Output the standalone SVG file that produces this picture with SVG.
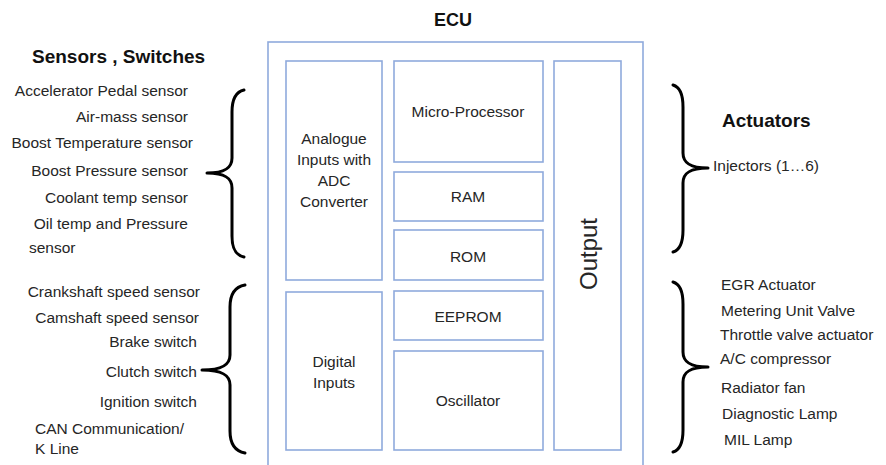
<svg xmlns="http://www.w3.org/2000/svg" width="886" height="465" viewBox="0 0 886 465">
<style>
.box{fill:#fff;stroke:#8faadc;stroke-width:1.6}
.t{font-family:"Liberation Sans",Arial,sans-serif;font-size:15.5px;fill:#262626}
.c{text-anchor:middle}
.e{text-anchor:end}
.h{font-family:"Liberation Sans",Arial,sans-serif;font-weight:bold;fill:#111}
.br{fill:none;stroke:#000;stroke-width:3;stroke-linecap:round;stroke-linejoin:round}
</style>
<rect width="886" height="465" fill="#fff"/>
<g id="ecu">
<rect class="box" x="268" y="42" width="375" height="440"/>
<text class="h c" x="453" y="26" font-size="18">ECU</text>
</g>
<g id="analogue">
<rect class="box" x="286" y="61" width="96" height="219"/>
<text class="t c" x="334" y="144">Analogue</text>
<text class="t c" x="334" y="165">Inputs with</text>
<text class="t c" x="334" y="186">ADC</text>
<text class="t c" x="334" y="207">Converter</text>
</g>
<g id="digital">
<rect class="box" x="286" y="292" width="96" height="158"/>
<text class="t c" x="334" y="367">Digital</text>
<text class="t c" x="334" y="388">Inputs</text>
</g>
<g id="microprocessor">
<rect class="box" x="394" y="61" width="149" height="101"/>
<text class="t c" x="468" y="117">Micro-Processor</text>
</g>
<g id="ram">
<rect class="box" x="394" y="172" width="149" height="49"/>
<text class="t c" x="468" y="202">RAM</text>
</g>
<g id="rom">
<rect class="box" x="394" y="230" width="149" height="50"/>
<text class="t c" x="468" y="262">ROM</text>
</g>
<g id="eeprom">
<rect class="box" x="394" y="291" width="149" height="49"/>
<text class="t c" x="468" y="322">EEPROM</text>
</g>
<g id="oscillator">
<rect class="box" x="394" y="351" width="149" height="99"/>
<text class="t c" x="468" y="406">Oscillator</text>
</g>
<g id="output">
<rect class="box" x="554" y="61" width="67" height="389"/>
<text class="t c" transform="translate(597,254) rotate(-90)" x="0" y="0" style="font-size:24px">Output</text>
</g>
<g id="sensors">
<text class="h" x="32" y="63" font-size="19">Sensors , Switches</text>
<text class="t e" x="188" y="96">Accelerator Pedal sensor</text>
<text class="t e" x="188" y="122">Air-mass sensor</text>
<text class="t e" x="193" y="148">Boost Temperature sensor</text>
<text class="t e" x="188" y="176">Boost Pressure sensor</text>
<text class="t e" x="188" y="203">Coolant temp sensor</text>
<text class="t e" x="188" y="229">Oil temp and Pressure</text>
<text class="t" x="29" y="253">sensor</text>
</g>
<g id="switches">
<text class="t e" x="200" y="297">Crankshaft speed sensor</text>
<text class="t e" x="199" y="323">Camshaft speed sensor</text>
<text class="t e" x="197" y="347">Brake switch</text>
<text class="t e" x="197" y="377">Clutch switch</text>
<text class="t e" x="197" y="407">Ignition switch</text>
<text class="t" x="35" y="434">CAN Communication/</text>
<text class="t" x="35" y="454">K Line</text>
</g>
<g id="actuators">
<text class="h" x="722" y="127" font-size="19">Actuators</text>
<text class="t" x="713" y="171">Injectors (1…6)</text>
</g>
<g id="actuators2">
<text class="t" x="721" y="290">EGR Actuator</text>
<text class="t" x="721" y="316">Metering Unit Valve</text>
<text class="t" x="720" y="340">Throttle valve actuator</text>
<text class="t" x="720" y="364">A/C compressor</text>
<text class="t" x="721" y="393">Radiator fan</text>
<text class="t" x="722" y="419">Diagnostic Lamp</text>
<text class="t" x="724" y="445">MIL Lamp</text>
</g>
<g id="connectors">
<path class="br" d="M244,90 C235,92 232,100 232,112 L232,158 C232,168 225,173 207,173 C225,173 232,178 232,188 L232,236 C232,248 235,255 244,257"/>
<path class="br" d="M245,285 C234,287 230,295 230,307 L230,355 C230,365 222,370 202,370 C222,370 230,375 230,385 L230,431 C230,443 234,451 245,453"/>
<path class="br" d="M673,85 C680,87 683,95 683,107 L683,153 C683,163 690,168 708,168 C690,168 683,173 683,183 L683,230 C683,242 680,250 673,252"/>
<path class="br" d="M673,282 C680,284 683,292 683,304 L683,352 C683,362 690,367 708,367 C690,367 683,372 683,382 L683,430 C683,442 680,450 673,452"/>
</g>
</svg>
